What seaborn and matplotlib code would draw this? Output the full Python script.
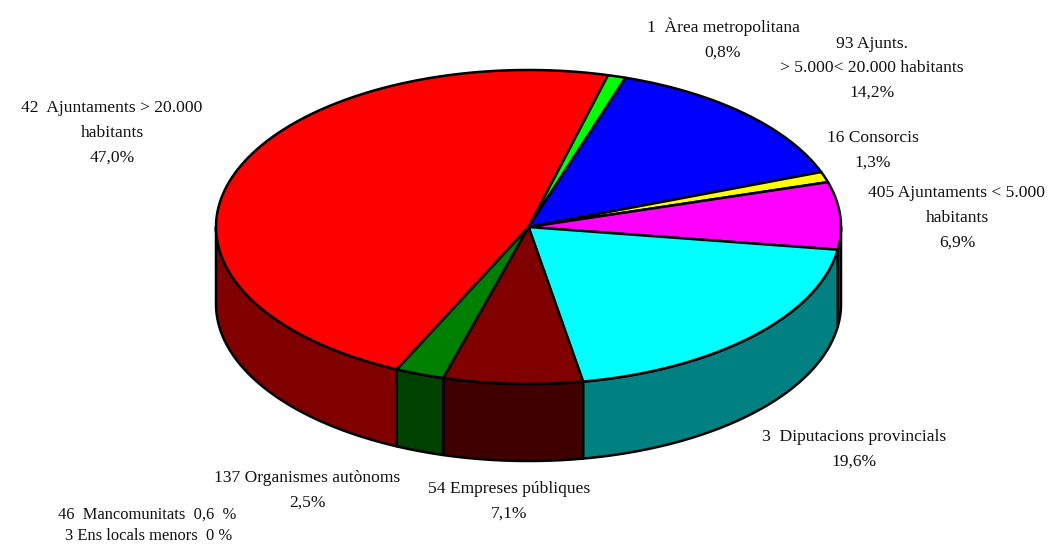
import numpy as np
import matplotlib
matplotlib.use("Agg")
import matplotlib.pyplot as plt
import matplotlib.colors as mcolors
import seaborn as sns

# Visible slices, clockwise from the red / light-green boundary (shares)
slice_names = ["Àrea metropolitana", "Ajunts. > 5.000< 20.000 habitants", "Consorcis",
               "Ajuntaments < 5.000 habitants", "Diputacions provincials",
               "Empreses públiques", "Organismes autònoms", "Ajuntaments > 20.000 habitants"]
slice_pct = [0.94, 14.28, 1.08, 6.92, 19.9, 7.19, 2.53, 47.16]
slice_colors = ["#00FF00", "#0000FF", "#FFFF00", "#FF00FF", "#00FFFF",
                "#800000", "#008000", "#FF0000"]

label_texts = ["1  Àrea metropolitana\n0,8%",
               "93 Ajunts.\n> 5.000< 20.000 habitants\n14,2%",
               "16 Consorcis\n1,3%",
               "405 Ajuntaments < 5.000\nhabitants\n6,9%",
               "3  Diputacions provincials\n19,6%",
               "54 Empreses públiques\n7,1%",
               "137 Organismes autònoms\n2,5%",
               "46  Mancomunitats  0,6  %",
               "3 Ens locals menors  0 %",
               "42  Ajuntaments > 20.000\nhabitants\n47,0%"]
label_x = [723, 872, 873, 957, 854, 509, 307, 147, 149, 112]
label_y = [39, 68.5, 150, 218, 449, 501, 490, 514.5, 536.5, 133]
label_sizes = [12.6, 12.6, 12.6, 12.6, 12.6, 12.6, 12.6, 11.9, 11.9, 12.6]

sns.set_theme(style="white")
plt.rcParams["font.family"] = ["Liberation Serif", "DejaVu Serif"]

CX, CY, RX, RY, DEPTH = 528.5, 227.0, 312.5, 157.0, 77.0
START = 18.1 - 0.94 * 3.6
EDGE = "black"
LW = 1.8

fig, ax = plt.subplots(figsize=(10.57, 5.45), dpi=100)
ax.set_position([0, 0, 1, 1])
ax.set_xlim(0, 1057)
ax.set_ylim(545, 0)
ax.set_axis_off()


def rim(deg, drop=0.0):
    t = np.radians(deg)
    return CX + RX * np.sin(t), CY - RY * np.cos(t) + drop


spans = []
a = START
for p, c in zip(slice_pct, slice_colors):
    b = a + p * 3.6
    spans.append((a, b, c))
    a = b

# side walls (front half of the rim: 90..270 degrees clockwise from the top)
for a, b, c in spans:
    lo, hi = max(a, 90), min(b, 270)
    if hi <= lo:
        continue
    th = np.linspace(lo, hi, 120)
    xt, yt = rim(th)
    xb, yb = rim(th, DEPTH)
    dark = tuple(v * 0.5 for v in mcolors.to_rgb(c))
    ax.fill(np.r_[xt, xb[::-1]], np.r_[yt, yb[::-1]], facecolor=dark,
            edgecolor=EDGE, linewidth=LW, joinstyle="round", zorder=2)

# top surface
for a, b, c in spans:
    th = np.linspace(a, b, 240)
    xt, yt = rim(th)
    ax.fill(np.r_[CX, xt], np.r_[CY, yt], facecolor=c,
            edgecolor=EDGE, linewidth=LW, joinstyle="round", zorder=3)

for txt, x, y, s in zip(label_texts, label_x, label_y, label_sizes):
    ax.text(x, y, txt, ha="center", va="center", ma="center", fontsize=s,
            linespacing=1.72, color="#111111", zorder=5)

sns.despine(ax=ax, left=True, bottom=True)
fig.savefig("out.png", dpi=100, facecolor="white")
